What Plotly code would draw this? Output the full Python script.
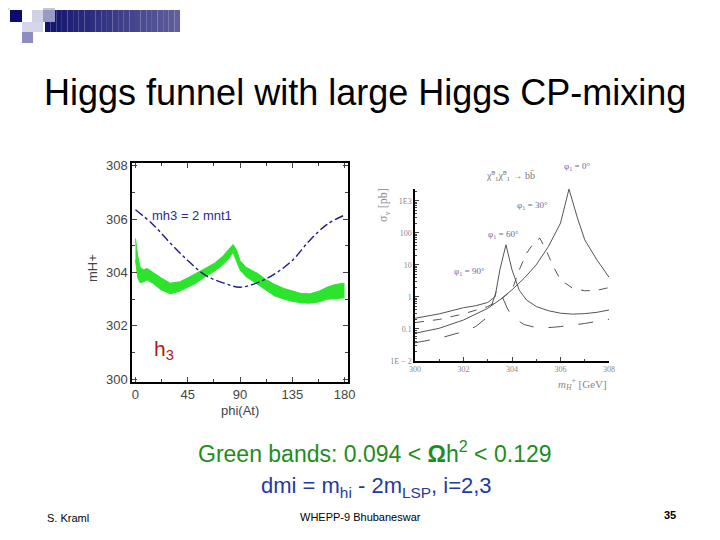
import plotly.graph_objects as go

# left panel: green relic-density band and mh3 = 2 mnt1 line
band_phi = [0, 2, 4, 7, 10, 15, 22, 30, 38, 45, 52, 60, 68, 75, 80, 84, 87, 90, 95,
            105, 112, 120, 128, 135, 142, 150, 158, 165, 172, 180]
band_top = [305.27, 304.6, 304.2, 304.1, 304.15, 304.0, 303.8, 303.6, 303.65, 303.8,
            303.95, 304.15, 304.35, 304.6, 304.85, 305.05, 304.85, 304.45, 304.2,
            303.97, 303.75, 303.55, 303.4, 303.3, 303.22, 303.2, 303.3, 303.45,
            303.55, 303.6]
band_bot = [304.46, 303.8, 303.62, 303.65, 303.72, 303.6, 303.35, 303.2, 303.3, 303.45,
            303.6, 303.84, 304.05, 304.28, 304.5, 304.75, 304.45, 304.1, 303.85,
            303.55, 303.35, 303.12, 303.0, 302.92, 302.87, 302.85, 302.9, 303.0,
            303.02, 303.05]

line_phi = [0, 15, 30, 45, 60, 75, 90, 105, 120, 135, 150, 165, 180]
line_mh = [306.35, 305.8, 305.1, 304.45, 303.9, 303.62, 303.45, 303.62, 303.95,
           304.45, 305.2, 305.8, 306.15]

# right panel: annihilation cross section vs mH+
m0 = [300, 301, 302, 303, 303.5, 304, 304.5, 305, 305.5, 306, 306.35, 306.7, 307, 307.5, 308]
s0 = [0.073, 0.105, 0.19, 0.44, 0.81, 1.66, 3.8, 10, 37, 200, 2300, 287, 60, 14.3, 4.1]

m30 = [300, 301, 302, 303, 303.5, 304, 304.3, 304.6, 304.9, 305.15, 305.4, 305.7, 306,
       306.5, 307, 307.5, 308]
s30 = [0.158, 0.198, 0.295, 0.5, 0.79, 1.6, 7.0, 23, 48, 68, 29.4, 8.9, 3.4, 1.86,
       1.55, 1.6, 1.95]

m60 = [300, 301, 302, 302.5, 303, 303.3, 303.5, 303.75, 304, 304.3, 304.6, 305, 305.5,
       306, 306.5, 307, 307.5, 308]
s60 = [0.215, 0.295, 0.46, 0.53, 0.67, 1.0, 7, 42, 7, 1.6, 0.8, 0.5, 0.37, 0.31, 0.29,
       0.3, 0.33, 0.39]

m90 = [300, 301, 302, 302.5, 303, 303.2, 303.4, 303.6, 303.8, 304, 304.5, 305, 305.5,
       306, 307, 308]
s90 = [0.037, 0.051, 0.083, 0.118, 0.24, 0.63, 1.87, 1.0, 0.45, 0.24, 0.137, 0.11,
       0.11, 0.118, 0.148, 0.2]

log_ticks = [0.01, 0.1, 1, 10, 100, 1000]
log_text = ["1E − 2", "0.1", "1", "10", "100", "1E3"]

# the page body has an 8px margin, so the figure is placed with that offset
OFF = 8
W, H = 720 - OFF, 540 - OFF


def fx(x):
    return (x - OFF) / W


def fy(y):
    return 1 - (y - OFF) / H


fig = go.Figure()

green = "rgb(45,228,45)"
fig.add_trace(go.Scatter(x=band_phi, y=band_bot, mode="lines", line=dict(color=green, width=1),
                         showlegend=False, xaxis="x", yaxis="y"))
fig.add_trace(go.Scatter(x=band_phi, y=band_top, mode="lines", line=dict(color=green, width=1),
                         fill="tonexty", fillcolor=green, showlegend=False, xaxis="x", yaxis="y"))
fig.add_trace(go.Scatter(x=line_phi, y=line_mh, mode="lines", line_shape="spline",
                         line=dict(color="#1c1c8c", width=1.4, dash="dashdot"),
                         showlegend=False, xaxis="x", yaxis="y"))

curve_style = [
    (m0, s0, "solid"),
    (m30, s30, "dash"),
    (m60, s60, "solid"),
    (m90, s90, "longdash"),
]
for mx, sy, dash in curve_style:
    fig.add_trace(go.Scatter(x=mx, y=sy, mode="lines",
                             line=dict(color="#555555", width=1, dash=dash),
                             showlegend=False, xaxis="x2", yaxis="y2"))

fig.update_layout(
    width=W, height=H,
    margin=dict(l=0, r=0, t=0, b=0, pad=0, autoexpand=False),
    paper_bgcolor="white", plot_bgcolor="white",
    font=dict(family="Liberation Sans, Arial, sans-serif", color="#333333"),
    xaxis=dict(domain=[fx(132), fx(348)], range=[-3, 183], anchor="y", automargin=False,
               tickvals=[0, 45, 90, 135, 180], ticks="inside", ticklen=5,
               minor=dict(tickvals=[22.5, 67.5, 112.5, 157.5], ticks="inside", ticklen=3),
               showline=True, linecolor="black", linewidth=1.5, mirror="allticks",
               showgrid=False, zeroline=False, tickfont=dict(size=13, color="#444")),
    yaxis=dict(domain=[fy(382), fy(163)], range=[299.9, 308.1], anchor="x", automargin=False,
               tickvals=[300, 302, 304, 306, 308], ticks="inside", ticklen=5,
               minor=dict(dtick=1, ticks="inside", ticklen=3),
               showline=True, linecolor="black", linewidth=1.5, mirror="allticks",
               showgrid=False, zeroline=False, tickfont=dict(size=13, color="#444")),
    xaxis2=dict(domain=[fx(415), fx(609)], range=[300, 308], anchor="y2", automargin=False,
                tickvals=[300, 302, 304, 306, 308], ticks="inside", ticklen=4,
                minor=dict(dtick=1, ticks="inside", ticklen=2),
                showline=True, linecolor="black", linewidth=1.5,
                showgrid=False, zeroline=False,
                tickfont=dict(family="Liberation Serif, serif", size=8, color="#888")),
    yaxis2=dict(domain=[fy(361), fy(189)], type="log", range=[-2, 3.365], anchor="x2",
                automargin=False,
                tickvals=log_ticks, ticktext=log_text, ticks="inside", ticklen=4,
                minor=dict(dtick="D1", ticks="inside", ticklen=2),
                showline=True, linecolor="black", linewidth=1.5,
                showgrid=False, zeroline=False,
                tickfont=dict(family="Liberation Serif, serif", size=8, color="#888")),
)

# slide decoration top-left
shapes = []
n = 24
for k in range(n):
    t = k / (n - 1)
    c = "rgb(%d,%d,%d)" % (20 + 75 * t, 20 + 75 * t, 112 + 45 * t)
    x0 = 45 + (180 - 45) * k / n
    x1 = 45 + (180 - 45) * (k + 1) / n
    shapes.append(dict(type="rect", xref="paper", yref="paper",
                       x0=fx(x0), x1=fx(x1), y0=fy(32), y1=fy(10),
                       fillcolor=c, line_width=0, layer="below"))
squares = [
    (8, 8, 10, 10, "#dcdcec"),
    (43, 8, 55, 10, "#c4c4dc"),
    (10, 10, 22, 22, "#0c0c70"),
    (32, 10, 43, 22, "#d0d0e6"),
    (43, 10, 55, 22, "#9a9ac6"),
    (22, 22, 43, 32, "#d6d6ea"),
    (22, 32, 33, 43, "#8c8cc0"),
]
for x0, y0, x1, y1, c in squares:
    shapes.append(dict(type="rect", xref="paper", yref="paper",
                       x0=fx(x0), x1=fx(x1), y0=fy(y1), y1=fy(y0),
                       fillcolor=c, line_width=0, layer="below"))
fig.update_layout(shapes=shapes)


def px(x, y, xanchor="center"):
    return dict(xref="paper", yref="paper", x=fx(x), y=fy(y), showarrow=False,
                xanchor=xanchor, yanchor="middle")


ann = []
ann.append(dict(**px(365, 92), text="Higgs funnel with large Higgs CP-mixing",
                font=dict(size=36, color="black")))
ann.append(dict(**px(192, 215), text="mh3 = 2 mnt1",
                font=dict(size=13, color="#2a2a9a")))
ann.append(dict(**px(152, 350, "left"), text="h<sub>3</sub>",
                font=dict(size=21, color="#b01818")))
ann.append(dict(**px(240, 410), text="phi(At)", font=dict(size=13, color="#444")))
ann.append(dict(**px(92, 268), text="mH+", textangle=-90, font=dict(size=13, color="#444")))

serif = "Liberation Serif, DejaVu Serif, serif"
lab = "#6a6a9c"
ann.append(dict(**px(384, 205), text="σ<sub>v</sub> [pb]", textangle=-90,
                font=dict(family=serif, size=12, color="#888")))
ann.append(dict(**px(609, 384, "right"), text="<i>m<sub>H</sub></i><sup>+</sup> [GeV]",
                font=dict(family=serif, size=11, color="#888")))
ann.append(dict(**px(510, 176), text="χ̃<sup>0</sup><sub>1</sub>χ̃<sup>0</sup><sub>1</sub> → bb̄",
                font=dict(family=serif, size=10, color="#777")))
ann.append(dict(**px(577, 166), text="φ<sub>1</sub> = 0°", font=dict(family=serif, size=9, color=lab)))
ann.append(dict(**px(532, 206), text="φ<sub>1</sub> = 30°", font=dict(family=serif, size=9, color=lab)))
ann.append(dict(**px(503, 234), text="φ<sub>1</sub> = 60°", font=dict(family=serif, size=9, color=lab)))
ann.append(dict(**px(469, 271), text="φ<sub>1</sub> = 90°", font=dict(family=serif, size=9, color=lab)))

ann.append(dict(**px(375, 452), text="Green bands: 0.094 &lt; <b>Ω</b>h<sup>2</sup> &lt; 0.129",
                font=dict(size=23, color="#1e8c1e")))
ann.append(dict(**px(376, 487), text="dmi = m<sub>hi</sub> - 2m<sub>LSP</sub>, i=2,3",
                font=dict(size=22, color="#1f3aa0")))

ann.append(dict(**px(45, 518, "left"), text="S. Kraml", font=dict(size=11, color="black")))
ann.append(dict(**px(360, 517), text="WHEPP-9 Bhubaneswar", font=dict(size=11, color="black")))
ann.append(dict(**px(678, 515, "right"), text="<b>35</b>", font=dict(size=11, color="black")))

fig.update_layout(annotations=ann)

fig.write_html("out.html")
